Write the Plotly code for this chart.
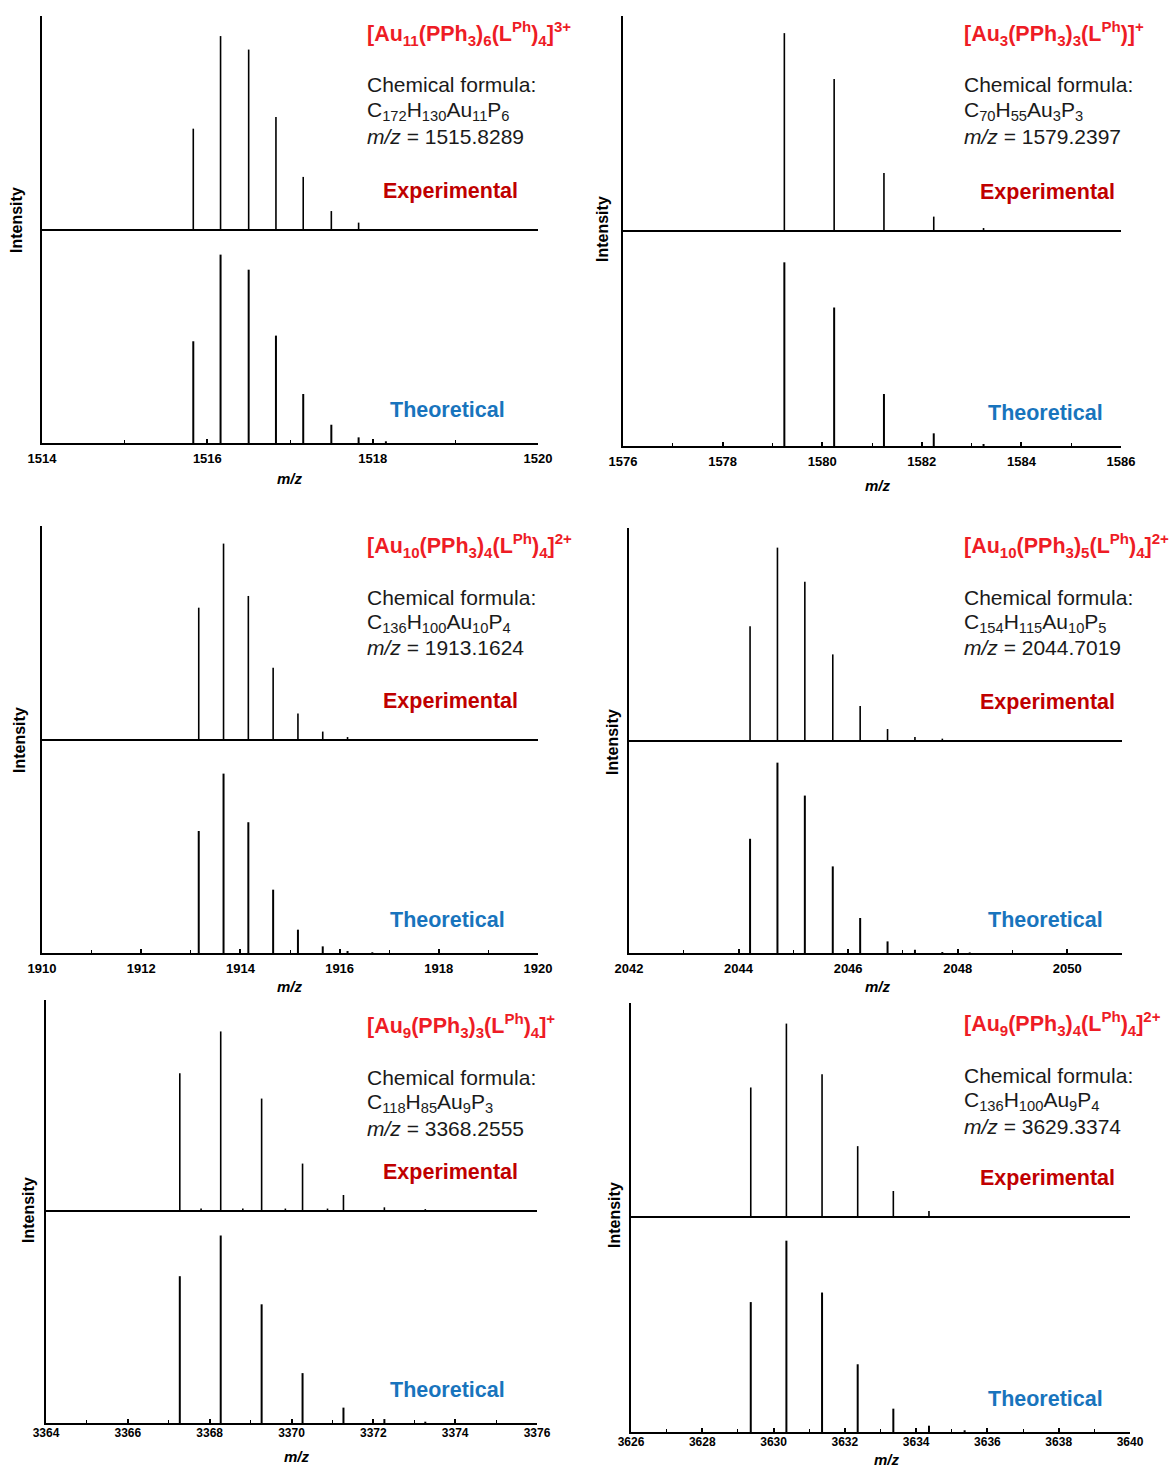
import plotly.graph_objects as go

# ---------------- data: isotope patterns (relative intensity, %) ----------------
P1_EXP_MZ = [1515.83, 1516.16, 1516.50, 1516.83, 1517.16, 1517.50, 1517.83]
P1_EXP = [52, 100, 93, 58, 27, 9.3, 3.3]
P1_THEO_MZ = [1515.83, 1516.16, 1516.50, 1516.83, 1517.16, 1517.50, 1517.83, 1518.16]
P1_THEO = [54, 100, 92, 57, 26, 9.7, 3.0, 0.9]

P2_EXP_MZ = [1579.24, 1580.24, 1581.24, 1582.24, 1583.24]
P2_EXP = [100, 76.7, 28.9, 6.8, 1.0]
P2_THEO_MZ = [1579.24, 1580.24, 1581.24, 1582.24, 1583.24]
P2_THEO = [100, 75.4, 28.3, 6.9, 1.1]

P3_EXP_MZ = [1913.16, 1913.66, 1914.16, 1914.66, 1915.16, 1915.66, 1916.16]
P3_EXP = [67.2, 100, 73.2, 36.5, 13.1, 3.8, 1.0]
P3_THEO_MZ = [1913.16, 1913.66, 1914.16, 1914.66, 1915.16, 1915.66, 1916.16, 1916.66]
P3_THEO = [68.0, 100, 72.9, 35.3, 13.0, 3.7, 1.1, 0.4]

P4_EXP_MZ = [2044.21, 2044.71, 2045.21, 2045.72, 2046.22, 2046.72, 2047.22, 2047.72]
P4_EXP = [59.1, 100, 82.3, 44.5, 17.7, 5.7, 1.6, 0.7]
P4_THEO_MZ = [2044.21, 2044.71, 2045.21, 2045.72, 2046.22, 2046.72, 2047.22, 2047.72, 2048.22]
P4_THEO = [60.0, 100, 82.7, 45.5, 18.4, 6.1, 1.7, 0.5, 0.3]

P5_EXP_MZ = [3367.27, 3367.79, 3368.27, 3368.81, 3369.27, 3369.85, 3370.27, 3370.88,
             3371.27, 3372.27, 3373.27]
P5_EXP = [76.6, 0.8, 100, 0.8, 62.4, 0.8, 26.0, 0.8, 8.4, 1.5, 0.5]
P5_THEO_MZ = [3367.27, 3368.27, 3369.27, 3370.27, 3371.27, 3372.27, 3373.27]
P5_THEO = [78.3, 100, 63.3, 26.6, 8.2, 2.1, 0.7]

P6_EXP_MZ = [3629.36, 3630.36, 3631.36, 3632.36, 3633.36, 3634.36]
P6_EXP = [66.8, 100, 73.7, 36.3, 13.0, 2.6]
P6_THEO_MZ = [3629.36, 3630.36, 3631.36, 3632.36, 3633.36, 3634.36, 3635.36]
P6_THEO = [67.9, 100, 72.9, 35.4, 12.2, 3.3, 0.9]

# species labels
SPECIES = [
    "[Au<sub>11</sub>(PPh<sub>3</sub>)<sub>6</sub>(L<sup>Ph</sup>)<sub>4</sub>]<sup>3+</sup>",
    "[Au<sub>3</sub>(PPh<sub>3</sub>)<sub>3</sub>(L<sup>Ph</sup>)]<sup>+</sup>",
    "[Au<sub>10</sub>(PPh<sub>3</sub>)<sub>4</sub>(L<sup>Ph</sup>)<sub>4</sub>]<sup>2+</sup>",
    "[Au<sub>10</sub>(PPh<sub>3</sub>)<sub>5</sub>(L<sup>Ph</sup>)<sub>4</sub>]<sup>2+</sup>",
    "[Au<sub>9</sub>(PPh<sub>3</sub>)<sub>3</sub>(L<sup>Ph</sup>)<sub>4</sub>]<sup>+</sup>",
    "[Au<sub>9</sub>(PPh<sub>3</sub>)<sub>4</sub>(L<sup>Ph</sup>)<sub>4</sub>]<sup>2+</sup>",
]
FORMULAS = [
    "C<sub>172</sub>H<sub>130</sub>Au<sub>11</sub>P<sub>6</sub>",
    "C<sub>70</sub>H<sub>55</sub>Au<sub>3</sub>P<sub>3</sub>",
    "C<sub>136</sub>H<sub>100</sub>Au<sub>10</sub>P<sub>4</sub>",
    "C<sub>154</sub>H<sub>115</sub>Au<sub>10</sub>P<sub>5</sub>",
    "C<sub>118</sub>H<sub>85</sub>Au<sub>9</sub>P<sub>3</sub>",
    "C<sub>136</sub>H<sub>100</sub>Au<sub>9</sub>P<sub>4</sub>",
]
MZ_VALUES = ["1515.8289", "1579.2397", "1913.1624", "2044.7019", "3368.2555", "3629.3374"]

X_RANGES = [[1514, 1520], [1576, 1586], [1910, 1920], [2042, 2051], [3364, 3376], [3626, 3640]]
X_TICKS = [
    [1514, 1516, 1518, 1520],
    [1576, 1578, 1580, 1582, 1584, 1586],
    [1910, 1912, 1914, 1916, 1918, 1920],
    [2042, 2044, 2046, 2048, 2050],
    [3364, 3366, 3368, 3370, 3372, 3374, 3376],
    [3626, 3628, 3630, 3632, 3634, 3636, 3638, 3640],
]
EXP_YMAX = [110.4, 108.7, 109.0, 110.2, 117.6, 110.7]
THEO_YMAX = [113.6, 117.6, 119.3, 111.9, 113.6, 112.9]

EXP_SERIES = [(P1_EXP_MZ, P1_EXP), (P2_EXP_MZ, P2_EXP), (P3_EXP_MZ, P3_EXP),
              (P4_EXP_MZ, P4_EXP), (P5_EXP_MZ, P5_EXP), (P6_EXP_MZ, P6_EXP)]
THEO_SERIES = [(P1_THEO_MZ, P1_THEO), (P2_THEO_MZ, P2_THEO), (P3_THEO_MZ, P3_THEO),
               (P4_THEO_MZ, P4_THEO), (P5_THEO_MZ, P5_THEO), (P6_THEO_MZ, P6_THEO)]

# ---------------- layout geometry (pixels) ----------------
W, H = 1171, 1470
# left, right, top, middle (experimental baseline), bottom
PANELS = [
    (42, 538, 16, 229, 443),
    (623, 1121, 16, 230, 446),
    (42, 538, 526, 739, 953),
    (629, 1122, 528, 740, 953),
    (46, 537, 1000, 1210, 1423),
    (631, 1130, 1003, 1216, 1432),
]
TEXT_X = [365, 962, 365, 962, 365, 962]
TITLE_Y = [33, 33, 545, 545, 1025, 1023]
INTENSITY_POS = [(17, 220), (602, 229), (19, 740), (612, 742), (28, 1210), (614, 1215)]
MZ_LABEL_POS = [(290, 478), (878, 485), (290, 987), (878, 987), (297, 1456), (887, 1459)]
TICK_STANDOFF = [2, 2, 2, 2, -2, -2]
TICK_SIZE = [13, 13, 13, 13, 12, 12]

FONT = "Arial, Liberation Sans, sans-serif"
RED = "#ee1c25"
DARK_RED = "#c00000"
BLUE = "#1874bd"
INK = "#1a1a1a"


def fx(px):
    return px / W


def fy(py):
    return 1 - py / H


def sticks(mz, vals):
    xs, ys = [], []
    for m, v in zip(mz, vals):
        xs += [m, m, None]
        ys += [0, v, None]
    return xs, ys


fig = go.Figure()
layout = dict(
    width=W, height=H, margin=dict(l=0, r=0, t=0, b=0, pad=0, autoexpand=False),
    paper_bgcolor="white", plot_bgcolor="white", showlegend=False,
    font=dict(family=FONT, color="black"), template="none",
)
annotations = []

for i, (xl, xr, top, mid, bot) in enumerate(PANELS):
    nb, nt = 2 * i + 1, 2 * i + 2  # bottom (theoretical) and top (experimental) axes
    sb = "" if nb == 1 else str(nb)
    st = str(nt)

    tx, ty = sticks(*THEO_SERIES[i])
    fig.add_trace(go.Scatter(x=tx, y=ty, mode="lines", line=dict(color="black", width=2),
                             xaxis="x" + sb, yaxis="y" + sb, hoverinfo="skip"))
    ex, ey = sticks(*EXP_SERIES[i])
    fig.add_trace(go.Scatter(x=ex, y=ey, mode="lines", line=dict(color="black", width=1.6),
                             xaxis="x" + st, yaxis="y" + st, hoverinfo="skip"))

    xdom = [fx(xl), fx(xr)]
    lo, hi = X_RANGES[i]
    minor_vals = list(range(lo, hi + 1))
    layout["xaxis" + sb] = dict(
        domain=xdom, range=X_RANGES[i], anchor="y" + sb, automargin=False,
        showline=True, linewidth=2, linecolor="black", mirror=False,
        showgrid=False, zeroline=False,
        tickmode="array", tickvals=X_TICKS[i], ticktext=[str(t) for t in X_TICKS[i]],
        ticks="inside", ticklen=4, tickwidth=1.5, tickcolor="black",
        ticklabelstandoff=TICK_STANDOFF[i],
        minor=dict(tickmode="array", tickvals=minor_vals, ticks="inside", ticklen=3,
                   tickwidth=1.2, tickcolor="black", showgrid=False),
        tickfont=dict(family=FONT, size=TICK_SIZE[i], color="black", weight="bold"),
    )
    layout["yaxis" + sb] = dict(
        domain=[fy(bot), fy(mid)], range=[0, THEO_YMAX[i]], anchor="x" + sb, automargin=False,
        showline=True, linewidth=2, linecolor="black",
        showgrid=False, zeroline=False, showticklabels=False, ticks="",
    )
    layout["xaxis" + st] = dict(
        domain=xdom, range=X_RANGES[i], anchor="y" + st, automargin=False,
        showline=True, linewidth=2, linecolor="black",
        showgrid=False, zeroline=False, showticklabels=False, ticks="",
    )
    layout["yaxis" + st] = dict(
        domain=[fy(mid), fy(top)], range=[0, EXP_YMAX[i]], anchor="x" + st, automargin=False,
        showline=True, linewidth=2, linecolor="black",
        showgrid=False, zeroline=False, showticklabels=False, ticks="",
    )

    # axis captions
    mx, my = MZ_LABEL_POS[i]
    annotations.append(dict(
        xref="paper", yref="paper", x=fx(mx), y=fy(my),
        text="<b><i>m/z</i></b>", showarrow=False, xanchor="center", yanchor="middle",
        font=dict(family=FONT, size=15, color="black"),
    ))
    ix, iy = INTENSITY_POS[i]
    annotations.append(dict(
        xref="paper", yref="paper", x=fx(ix), y=fy(iy),
        text="<b>Intensity</b>", textangle=-90, showarrow=False,
        xanchor="center", yanchor="middle",
        font=dict(family=FONT, size=16, color="black"),
    ))

    # species and formula block
    tx0 = TEXT_X[i]
    annotations.append(dict(
        xref="paper", yref="paper", x=fx(tx0), y=fy(TITLE_Y[i]),
        text="<b>" + SPECIES[i] + "</b>", showarrow=False, xanchor="left", yanchor="middle",
        font=dict(family=FONT, size=21.5, color=RED),
    ))
    base = TITLE_Y[i] + 52
    for k, line in enumerate(["Chemical formula:", FORMULAS[i],
                              "<i>m/z</i> = " + MZ_VALUES[i]]):
        annotations.append(dict(
            xref="paper", yref="paper", x=fx(tx0), y=fy(base + 25.5 * k),
            text=line, showarrow=False, xanchor="left", yanchor="middle",
            font=dict(family=FONT, size=21, color=INK),
        ))
    annotations.append(dict(
        xref="paper", yref="paper", x=fx(tx0 + 85), y=fy(mid - 38),
        text="<b>Experimental</b>", showarrow=False, xanchor="center", yanchor="middle",
        font=dict(family=FONT, size=21.5, color=DARK_RED),
    ))
    annotations.append(dict(
        xref="paper", yref="paper", x=fx(tx0 + 83), y=fy(bot - 33),
        text="<b>Theoretical</b>", showarrow=False, xanchor="center", yanchor="middle",
        font=dict(family=FONT, size=21.5, color=BLUE),
    ))

layout["annotations"] = annotations
fig.update_layout(**layout)
fig.write_html("out.html")
